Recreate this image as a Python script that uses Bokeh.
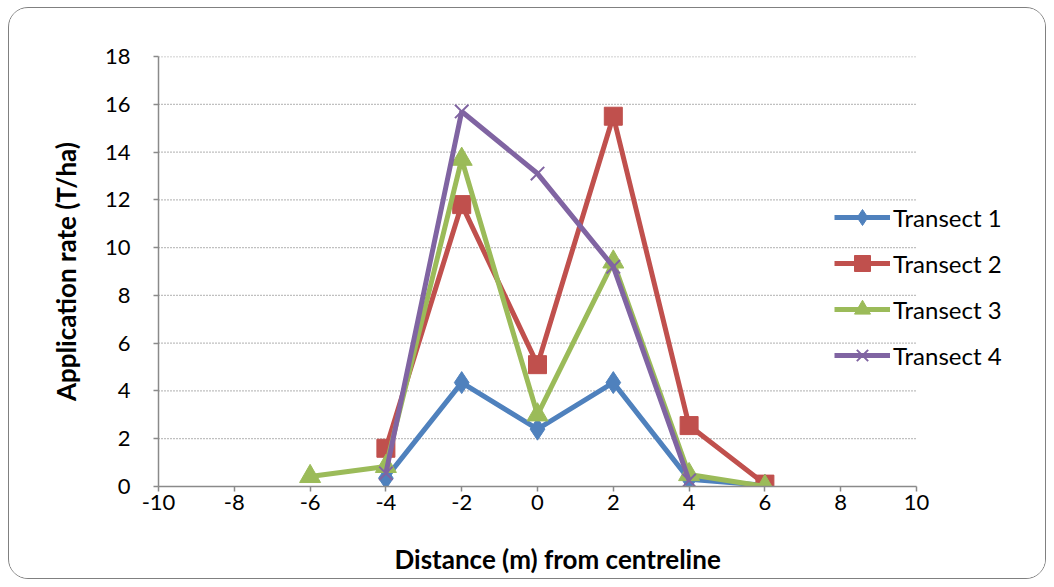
from bokeh.plotting import figure
from bokeh.models import Range1d, FixedTicker, Legend, LegendItem, Title
from bokeh.embed import file_html
from bokeh.resources import INLINE

x_t1 = [-4, -2, 0, 2, 4, 6]
y_t1 = [0.35, 4.35, 2.4, 4.35, 0.3, 0.05]
x_t2 = [-4, -2, 0, 2, 4, 6]
y_t2 = [1.6, 11.8, 5.1, 15.5, 2.55, 0.1]
x_t3 = [-6, -4, -2, 0, 2, 4, 6]
y_t3 = [0.42, 0.84, 13.7, 3.0, 9.4, 0.5, 0.0]
x_t4 = [-4, -2, 0, 2, 4]
y_t4 = [0.55, 15.7, 13.1, 9.2, 0.25]
x_ticks = [-10, -8, -6, -4, -2, 0, 2, 4, 6, 8, 10]
y_ticks = [0, 2, 4, 6, 8, 10, 12, 14, 16, 18]
names = ["Transect 1", "Transect 2", "Transect 3", "Transect 4"]
colors = ["#4F81BD", "#C0504D", "#9BBB59", "#8064A2"]

FONT = "Lato"
W, H = 1038, 572
# frame spans beyond x=10 so the legend may sit over its right part
x_lo, x_hi = x_ticks[0], x_ticks[-1]
px_per_unit = 758 / (x_hi - x_lo)
frame_w = W - 149 - 10
x_end = x_lo + frame_w / px_per_unit

p = figure(width=W, height=H, output_backend="svg", toolbar_location=None,
           x_range=Range1d(x_lo, x_end), y_range=Range1d(0, 18),
           min_border_left=149, min_border_right=10, min_border_top=48,
           min_border_bottom=H - 478)
p.styles = {"margin-left": "8px", "margin-top": "7px", "border": "1.5px solid #808080",
            "border-radius": "20px", "overflow": "hidden"}
p.outline_line_color = None
p.background_fill_color = "white"
p.border_fill_color = "white"

p.xgrid.grid_line_color = None
p.ygrid.grid_line_color = None

# horizontal dotted gridlines limited to the x axis extent
gy = y_ticks[1:]
p.segment(x0=[x_lo] * len(gy), x1=[x_hi] * len(gy), y0=gy, y1=gy,
          line_color="#808080", line_dash="1 2", line_width=1.3)

for ax in (p.xaxis[0], p.yaxis[0]):
    ax.axis_line_color = "#8a8a8a"
    ax.axis_line_width = 1.5
    ax.major_tick_line_color = "#8a8a8a"
    ax.major_tick_line_width = 1.5
    ax.major_tick_out = 5
    ax.major_tick_in = 0
    ax.minor_tick_line_color = None
    ax.major_label_text_font = FONT
    ax.major_label_text_font_size = "22px"
    ax.major_label_text_color = "black"
    ax.axis_label_text_font = FONT
    ax.axis_label_text_font_size = "26px"
    ax.axis_label_text_font_style = "bold"
    ax.axis_label_text_color = "black"

p.xaxis.ticker = FixedTicker(ticks=x_ticks)
p.xaxis.bounds = (x_lo, x_hi)
p.xaxis.major_label_overrides = {t: str(t) for t in x_ticks}
p.yaxis.ticker = FixedTicker(ticks=y_ticks)
p.xaxis.major_label_standoff = 3
p.yaxis.major_label_standoff = 23
p.yaxis.axis_label = "Application rate (T/ha)"
p.yaxis.axis_label_standoff = 20

# spacer between x tick labels and the x axis title
spacer = Title(text=" ", text_font_size="2px", standoff=24)
p.add_layout(spacer, "below")
xtitle = Title(text="Distance (m) from centreline", align="left", offset=236,
               text_font=FONT, text_font_size="26px", text_font_style="bold",
               text_color="black", standoff=0)
p.add_layout(xtitle, "below")

r1l = p.line(x_t1, y_t1, line_color=colors[0], line_width=5)
r1m = p.scatter(x_t1, y_t1, marker="diamond", size=22, fill_color=colors[0], line_color=colors[0])
r2l = p.line(x_t2, y_t2, line_color=colors[1], line_width=5)
r2m = p.scatter(x_t2, y_t2, marker="square", size=18, fill_color=colors[1], line_color=colors[1])
r3l = p.line(x_t3, y_t3, line_color=colors[2], line_width=5)
r3m = p.scatter(x_t3, y_t3, marker="triangle", size=21, fill_color=colors[2], line_color=colors[2])
r4l = p.line(x_t4, y_t4, line_color=colors[3], line_width=5)
r4m = p.scatter(x_t4, y_t4, marker="x", size=19, line_color=colors[3], line_width=2)

items = [LegendItem(label=names[0], renderers=[r1l, r1m]),
         LegendItem(label=names[1], renderers=[r2l, r2m]),
         LegendItem(label=names[2], renderers=[r3l, r3m]),
         LegendItem(label=names[3], renderers=[r4l, r4m])]
legend = Legend(items=items, location=(676, 111), orientation="vertical",
                background_fill_alpha=0, border_line_color=None,
                label_text_font=FONT, label_text_font_size="24px", label_text_color="black",
                glyph_width=56, glyph_height=40, label_height=20, spacing=6,
                label_standoff=3, padding=0, margin=0)
p.add_layout(legend)

open("out.html", "w").write(file_html(p, INLINE))
